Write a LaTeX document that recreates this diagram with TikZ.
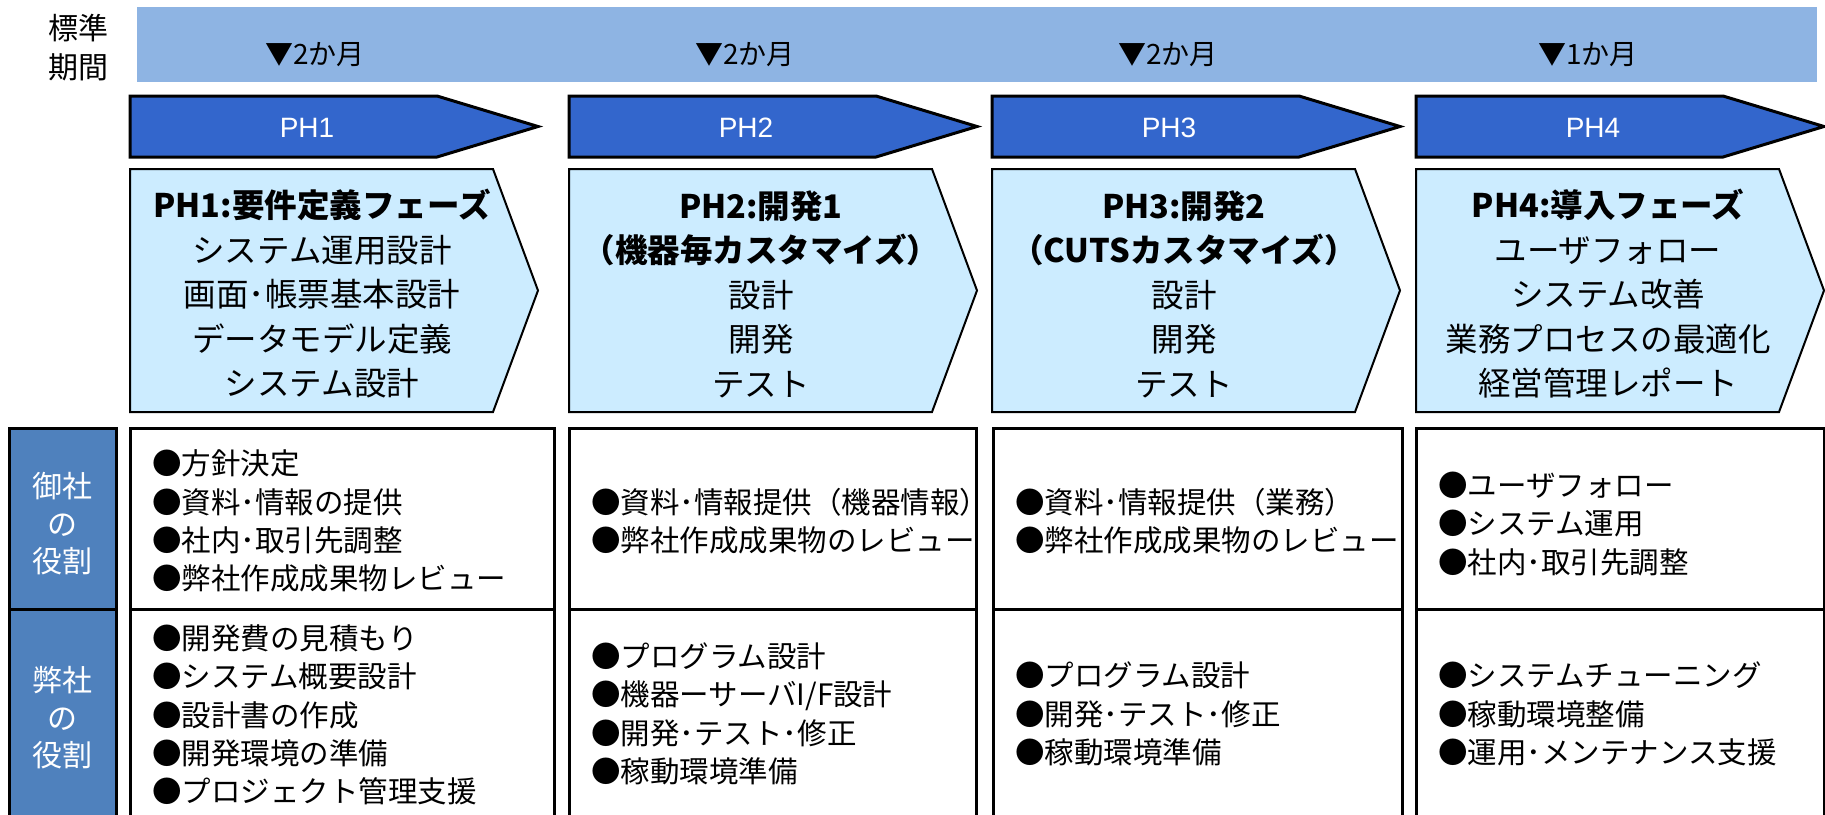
\documentclass[tikz,border=0pt]{standalone}
\usepackage{fontspec}
\newfontfamily\jp{Noto Sans CJK JP}
\newfontfamily\lat{Liberation Sans}
\definecolor{bandblue}{HTML}{8EB4E3}
\definecolor{phblue}{HTML}{3366CC}
\definecolor{boxfill}{HTML}{CCECFF}
\definecolor{rolefill}{HTML}{4F81BD}
\tikzset{
  phasearrow/.style={fill=phblue, draw=black, line width=3pt, line join=miter},
  detailbox/.style={fill=boxfill, draw=black, line width=2pt, line join=miter},
  cellbox/.style={draw=black, line width=3pt, fill=white},
  rolebox/.style={fill=rolefill, draw=black, line width=3pt},
  phlabel/.style={text=white, inner sep=0pt, font=\lat\fontsize{28}{30}\selectfont},
  monthlabel/.style={inner sep=0pt, font=\jp\fontsize{28}{30}\selectfont},
  boxtext/.style={align=center, inner sep=0pt, font=\jp\fontsize{32.5}{44.5}\selectfont},
  celltext/.style={align=left, anchor=west, inner sep=0pt, font=\jp\fontsize{29.5}{38.3}\selectfont},
  roletext/.style={align=center, text=white, inner sep=0pt, font=\jp\fontsize{30}{37.5}\selectfont},
  sidetext/.style={align=center, inner sep=0pt, font=\jp\fontsize{30}{39}\selectfont}
}
\begin{document}
\begin{tikzpicture}[x=1pt,y=-1pt]
\useasboundingbox (0,0) rectangle (1825,814);
\fill[white] (0,0) rectangle (1825,814);
% top band
\fill[bandblue] (137,7) rectangle (1817,82);
\node[sidetext] (std) at (78,47.5) {標準\\期間};
\node[monthlabel] (m1) at (315,55) {▼2か月};
\node[monthlabel] (m2) at (745,55) {▼2か月};
\node[monthlabel] (m3) at (1168,55) {▼2か月};
\node[monthlabel] (m4) at (1588,55) {▼1か月};
% phase arrows
\foreach \L/\t in {130/PH1,569/PH2,992/PH3,1416/PH4}{
  \draw[phasearrow] (\L,96) -- (\L+307,96) -- (\L+408,126.5) -- (\L+307,157) -- (\L,157) -- cycle;
  \node[phlabel] (lbl\t) at (\L+177,128) {\t};
}
% detail boxes
\foreach \L in {130,569,992,1416}{
  \draw[detailbox] (\L,169) -- (\L+363,169) -- (\L+408,290.5) -- (\L+363,412) -- (\L,412) -- cycle;
}
\node[boxtext] (b1) at (322,294) {{\bfseries PH1:要件定義フェーズ}\\システム運用設計\\画面･帳票基本設計\\データモデル定義\\システム設計};
\node[boxtext] (b2) at (761,294) {{\bfseries PH2:開発1}\\{\bfseries （機器毎カスタマイズ）}\\設計\\開発\\テスト};
\node[boxtext] (b3) at (1184,294) {{\bfseries PH3:開発2}\\{\bfseries （CUTSカスタマイズ）}\\設計\\開発\\テスト};
\node[boxtext] (b4) at (1608,294) {{\bfseries PH4:導入フェーズ}\\ユーザフォロー\\システム改善\\業務プロセスの最適化\\経営管理レポート};
% role column
\draw[rolebox] (9,428) rectangle (116,609);
\draw[rolebox] (9,609) rectangle (116,822);
\node[roletext] (r1) at (62,524) {御社\\の\\役割};
\node[roletext] (r2) at (62,718) {弊社\\の\\役割};
% cells
\foreach \L/\R in {130/554,569/976,993/1402,1416/1824}{
  \draw[cellbox] (\L,428) rectangle (\R,609);
  \draw[cellbox] (\L,609) rectangle (\R,822);
}
\node[celltext] (c11) at (152,521) {●方針決定\\●資料･情報の提供\\●社内･取引先調整\\●弊社作成成果物レビュー};
\node[celltext] (c21) at (591,521) {●資料･情報提供（機器情報）\\●弊社作成成果物のレビュー};
\node[celltext] (c31) at (1015,521) {●資料･情報提供（業務）\\●弊社作成成果物のレビュー};
\node[celltext] (c41) at (1438,524) {●ユーザフォロー\\●システム運用\\●社内･取引先調整};
\node[celltext] (c12) at (152,715) {●開発費の見積もり\\●システム概要設計\\●設計書の作成\\●開発環境の準備\\●プロジェクト管理支援};
\node[celltext] (c22) at (591,714) {●プログラム設計\\●機器ーサーバI/F設計\\●開発･テスト･修正\\●稼動環境準備};
\node[celltext] (c32) at (1015,714) {●プログラム設計\\●開発･テスト･修正\\●稼動環境準備};
\node[celltext] (c42) at (1438,714) {●システムチューニング\\●稼動環境整備\\●運用･メンテナンス支援};
\end{tikzpicture}
\end{document}
